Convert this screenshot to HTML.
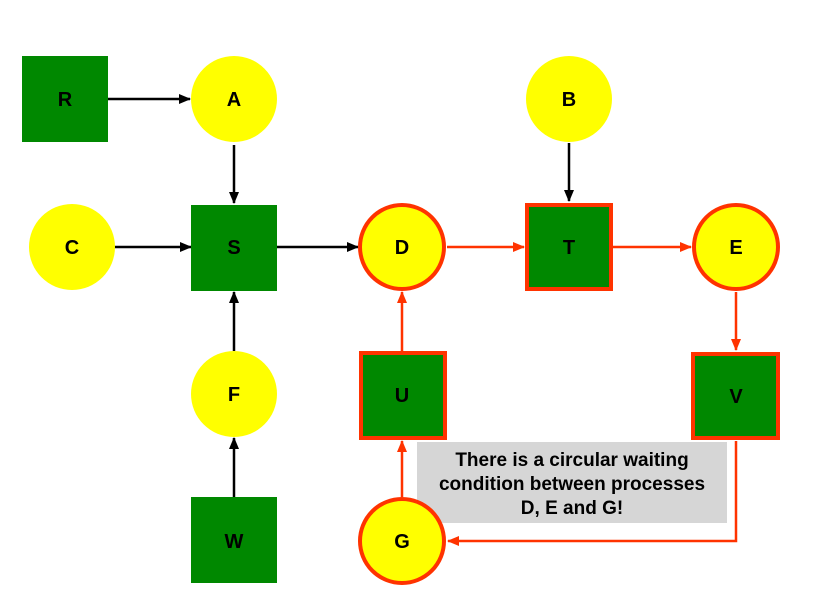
<!DOCTYPE html>
<html><head><style>body{margin:0;background:#fff}svg{display:block}text{font-family:"Liberation Sans",Arial,sans-serif;font-weight:bold}</style></head><body>
<svg width="818" height="595" viewBox="0 0 818 595" xmlns="http://www.w3.org/2000/svg">
<defs>
<marker id="ab" markerWidth="12" markerHeight="10" refX="11" refY="5" orient="auto" markerUnits="userSpaceOnUse"><polygon points="0,0 12,5 0,10" fill="#000"/></marker>
<marker id="ar" markerWidth="12" markerHeight="10" refX="11" refY="5" orient="auto" markerUnits="userSpaceOnUse"><polygon points="0,0 12,5 0,10" fill="#ff3300"/></marker>
</defs>
<g stroke="#000" stroke-width="2.5" fill="none">
<line x1="104" y1="99" x2="190" y2="99" marker-end="url(#ab)"/>
<line x1="234" y1="145" x2="234" y2="203" marker-end="url(#ab)"/>
<line x1="569" y1="143" x2="569" y2="201" marker-end="url(#ab)"/>
<line x1="114" y1="247" x2="191" y2="247" marker-end="url(#ab)"/>
<line x1="277" y1="247" x2="358" y2="247" marker-end="url(#ab)"/>
<line x1="234" y1="351" x2="234" y2="292" marker-end="url(#ab)"/>
<line x1="234" y1="497" x2="234" y2="438" marker-end="url(#ab)"/>
</g>
<g stroke="#ff3300" stroke-width="2.5" fill="none">
<line x1="447" y1="247" x2="524" y2="247" marker-end="url(#ar)"/>
<line x1="613" y1="247" x2="691" y2="247" marker-end="url(#ar)"/>
<line x1="736" y1="292" x2="736" y2="350" marker-end="url(#ar)"/>
<line x1="402" y1="351" x2="402" y2="292" marker-end="url(#ar)"/>
<line x1="402" y1="497" x2="402" y2="441" marker-end="url(#ar)"/>
<polyline points="736,441 736,541 448,541" marker-end="url(#ar)"/>
</g>
<rect x="417" y="442" width="310" height="81" fill="#d6d6d6"/>
<g font-size="19" text-anchor="middle" fill="#000">
<text x="572" y="466">There is a circular waiting</text>
<text x="572" y="490">condition between processes</text>
<text x="572" y="514">D, E and G!</text>
</g>
<g fill="#008800">
<rect x="22" y="56" width="86" height="86"/>
<rect x="191" y="205" width="86" height="86"/>
<rect x="191" y="497" width="86" height="86"/>
</g>
<g fill="#008800" stroke="#ff3300" stroke-width="4">
<rect x="527" y="205" width="84" height="84"/>
<rect x="361" y="353" width="84" height="85"/>
<rect x="693" y="354" width="85" height="84"/>
</g>
<g fill="#ffff00">
<circle cx="234" cy="99" r="43"/>
<circle cx="569" cy="99" r="43"/>
<circle cx="72" cy="247" r="43"/>
<circle cx="234" cy="394" r="43"/>
</g>
<g fill="#ffff00" stroke="#ff3300" stroke-width="4">
<circle cx="402" cy="247" r="42"/>
<circle cx="736" cy="247" r="42"/>
<circle cx="402" cy="541" r="42"/>
</g>
<g font-size="20" text-anchor="middle" fill="#000">
<text x="65" y="106">R</text>
<text x="234" y="106">A</text>
<text x="569" y="106">B</text>
<text x="72" y="254">C</text>
<text x="234" y="254">S</text>
<text x="402" y="254">D</text>
<text x="569" y="254">T</text>
<text x="736" y="254">E</text>
<text x="234" y="401">F</text>
<text x="402" y="402">U</text>
<text x="736" y="403">V</text>
<text x="234" y="548">W</text>
<text x="402" y="548">G</text>
</g>
</svg>
</body></html>
